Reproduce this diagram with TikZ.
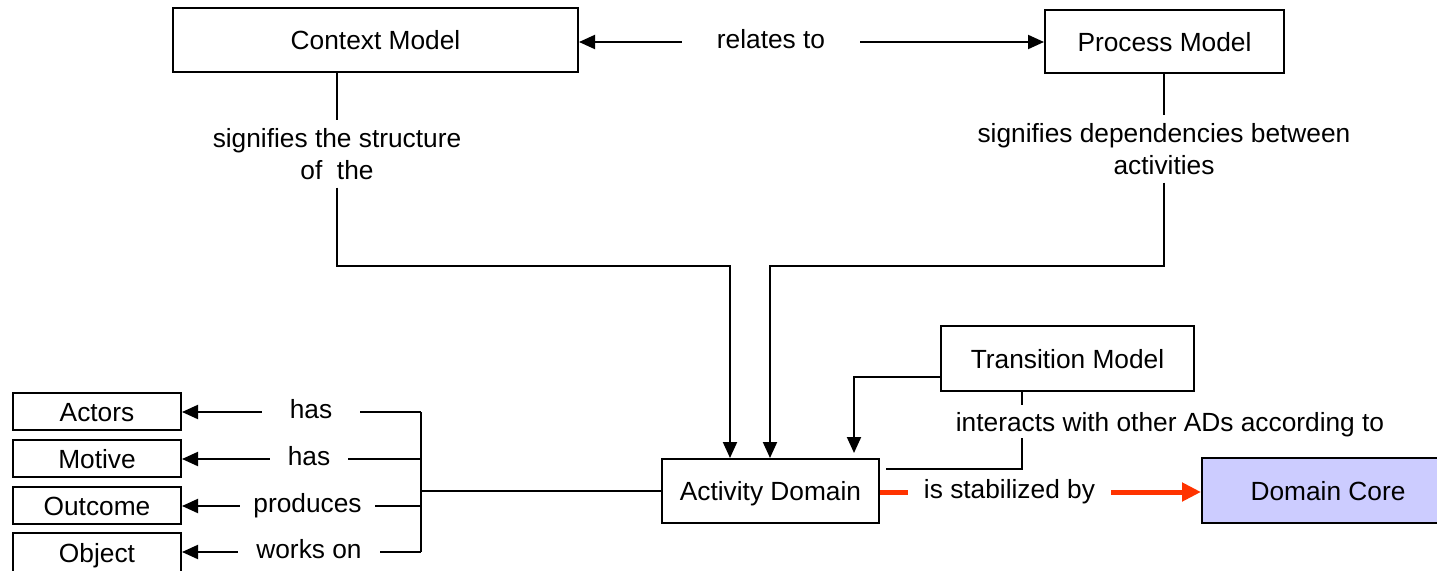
\documentclass[tikz,border=0pt]{standalone}
\usepackage{fontspec}
\setmainfont{Liberation Sans}
\usetikzlibrary{arrows.meta}
\definecolor{dcfill}{RGB}{204,204,255}
\definecolor{redarrow}{RGB}{255,51,0}
\begin{document}
\begin{tikzpicture}[x=1pt,y=-1pt,
  every node/.style={font=\fontsize{26.3}{32}\selectfont},
  box/.style={draw,line width=2pt,inner sep=0pt,align=center,text height=19pt,text depth=0pt},
  conn/.style={line width=2pt},
  arr/.style={conn,-{Triangle[length=16pt,width=14pt]}},
  redline/.style={line width=5pt,draw=redarrow},
  redarr/.style={redline,-{Triangle[length=19pt,width=18pt]}},
  lbl/.style={inner ysep=0pt,text height=18pt,text depth=5pt},
  mlbl/.style={align=center,inner xsep=0pt,inner ysep=8pt},
]
\useasboundingbox (0,0) rectangle (1437,570);
% main boxes
\node[box,minimum width=405pt,minimum height=64pt] (ctx) at (375.5,40) {Context Model};
\node[box,minimum width=239pt,minimum height=63pt] (proc) at (1164.5,41.5) {Process Model};
\node[box,minimum width=217pt,minimum height=64pt] (ad) at (770.5,491) {Activity Domain};
\node[box,minimum width=253pt,minimum height=65pt] (tm) at (1067.5,358.5) {Transition Model};
\node[box,fill=dcfill,minimum width=252pt,minimum height=65pt] (dc) at (1328,490.5) {Domain Core};
% left boxes
\node[box,minimum width=168pt,minimum height=37pt] (actors) at (97,411.5) {Actors};
\node[box,minimum width=168pt,minimum height=37pt] (motive) at (97,458.5) {Motive};
\node[box,minimum width=168pt,minimum height=37pt] (outcome) at (97,505.5) {Outcome};
\node[box,minimum width=168pt,minimum height=40pt] (object) at (97,553) {Object};
% relates to
\node[lbl,inner xsep=35pt] (rel) at (771,42) {relates to};
\draw[arr] (rel.west) -- (rel.west -| ctx.east);
\draw[arr] (rel.east) -- (rel.east -| proc.west);
% context model -> activity domain
\node[mlbl,anchor=north] (ctxl) at (337,120) {signifies the structure\\of\ \ the};
\coordinate (cA) at (730,266);
\draw[conn] (ctxl.north |- ctx.south) -- (ctxl.north);
\draw[arr] (ctxl.south) |- (cA) -- (cA |- ad.north);
% process model -> activity domain
\node[mlbl,anchor=north] (procl) at (1164,115) {signifies dependencies between\\activities};
\coordinate (cB) at (770,266);
\draw[conn] (procl.north |- proc.south) -- (procl.north);
\draw[arr] (procl.south) |- (cB) -- (cB |- ad.north);
% transition model
\coordinate (tmout) at (941,377);
\coordinate (tmend) at (854,453);
\draw[arr] (tmout) -| (tmend);
\node[inner xsep=0pt,inner ysep=7pt,text depth=0pt,anchor=north] (intl) at (1170,405) {interacts with other ADs according to};
\coordinate (iA) at (1022,391);
\coordinate (iEnd) at (886,469);
\draw[conn] (iA) -- (iA |- intl.north);
\draw[conn] (iA |- intl.south) |- (iEnd);
% is stabilized by
\node[lbl,inner xsep=16pt] (stab) at (1009.5,492) {is stabilized by};
\draw[redline] (ad.east |- stab.west) -- (stab.west);
\draw[redarr] (stab.east) -- (stab.east -| dc.west);
% left bracket
\coordinate (brkT) at (421,412);
\coordinate (brkB) at (421,552);
\coordinate (brkM) at (421,491);
\draw[conn] (brkT) -- (brkB);
\draw[line width=2.8pt] (brkM) -- (ad.west);
\node[lbl,inner xsep=28pt] (hasA) at (311,412) {has};
\node[lbl,inner xsep=18pt] (hasM) at (309,459) {has};
\node[lbl,inner xsep=13.5pt] (prod) at (307.5,506) {produces};
\node[lbl,inner xsep=18.5pt] (works) at (309,552) {works on};
\draw[arr] (hasA.west) -- (hasA.west -| actors.east);
\draw[arr] (hasM.west) -- (hasM.west -| motive.east);
\draw[arr] (prod.west) -- (prod.west -| outcome.east);
\draw[arr] (works.west) -- (works.west -| object.east);
\draw[conn] (hasA.east) -- (hasA.east -| brkT);
\draw[conn] (hasM.east) -- (hasM.east -| brkT);
\draw[conn] (prod.east) -- (prod.east -| brkT);
\draw[conn] (works.east) -- (works.east -| brkT);
\end{tikzpicture}
\end{document}
